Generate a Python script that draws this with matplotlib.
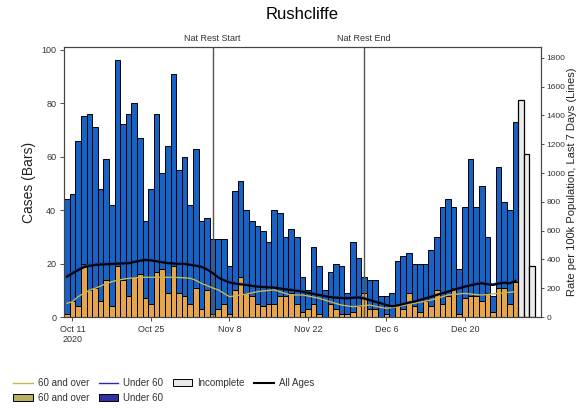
import numpy as np
import pandas as pd
import matplotlib
matplotlib.use("Agg")
import matplotlib.pyplot as plt
from matplotlib.patches import Patch
from matplotlib.lines import Line2D

plt.rcParams["font.family"] = ["Liberation Sans", "DejaVu Sans"]

# daily cases, Rushcliffe, from 10 Oct 2020
start = "2020-10-10"
total_cases = [44, 46, 66, 75, 76, 71, 48, 59, 42, 96, 72, 76, 80, 67, 36, 48, 76,
               54, 64, 91, 55, 60, 42, 63, 36, 37, 29, 29, 29, 19, 47, 51, 40, 36,
               34, 32, 28, 40, 39, 30, 33, 30, 15, 10, 26, 19, 10, 17, 20, 19, 9,
               28, 22, 15, 14, 14, 8, 8, 9, 21, 23, 24, 20, 20, 20, 25, 30, 41,
               44, 41, 18, 41, 59, 41, 49, 30, 8, 56, 43, 40, 73]
over60_cases = [1, 6, 4, 20, 10, 11, 6, 14, 4, 19, 14, 8, 15, 16, 7, 5, 17, 18, 9,
                19, 9, 8, 5, 11, 3, 10, 1, 3, 5, 1, 10, 15, 9, 8, 5, 4, 5, 5, 8,
                8, 9, 5, 2, 3, 5, 1, 0, 5, 3, 1, 1, 2, 4, 9, 3, 3, 0, 1, 0, 5, 3,
                9, 4, 2, 6, 4, 10, 5, 8, 11, 1, 7, 8, 8, 6, 9, 2, 11, 11, 5, 13]
incomplete_cases = [81, 61, 19]

# rate per 100k, last 7 days
all_ages_rate = [280, 303, 325, 345, 355, 361, 364, 366, 368, 370, 372, 373, 382,
                 390, 396, 393, 387, 380, 374, 371, 369, 368, 362, 356, 348, 330,
                 305, 275, 255, 240, 232, 226, 222, 216, 211, 208, 206, 204, 198,
                 192, 188, 182, 176, 168, 160, 153, 145, 138, 134, 131, 130, 133,
                 136, 128, 118, 106, 95, 83, 74, 80, 90, 99, 107, 118, 130, 141,
                 153, 165, 176, 188, 200, 211, 220, 228, 234, 228, 222, 232, 238,
                 234, 250]
over60_rate = [95, 107, 141, 165, 185, 199, 215, 232, 245, 255, 263, 269, 272, 275,
               276, 276, 276, 276, 276, 276, 274, 272, 269, 255, 234, 218, 202, 188,
               165, 141, 147, 153, 160, 168, 176, 181, 185, 188, 176, 163, 153, 153,
               153, 146, 138, 130, 118, 106, 94, 83, 77, 72, 75, 79, 83, 75, 67, 60,
               66, 72, 80, 88, 95, 103, 110, 118, 130, 141, 153, 157, 161, 164, 160,
               156, 153, 157, 161, 164, 168, 172, 176]
under60_rate = [290, 314, 336, 356, 365, 370, 372, 373, 375, 377, 379, 380, 389,
                397, 404, 401, 394, 386, 380, 377, 375, 374, 368, 363, 356, 338,
                312, 281, 262, 248, 239, 233, 229, 222, 216, 213, 211, 209, 204,
                198, 194, 187, 181, 173, 165, 158, 151, 144, 141, 139, 138, 141,
                143, 135, 124, 112, 101, 88, 79, 85, 95, 104, 112, 123, 135, 147,
                158, 170, 181, 194, 206, 218, 228, 236, 243, 236, 229, 240, 246,
                242, 258]

tick_dates = ["2020-10-11", "2020-10-25", "2020-11-08", "2020-11-22", "2020-12-06", "2020-12-20"]
tick_labels = ["Oct 11\n2020", "Oct 25", "Nov 8", "Nov 22", "Dec 6", "Dec 20"]
events = {"Nat Rest Start": "2020-11-05", "Nat Rest End": "2020-12-02"}

dates = pd.date_range(start, periods=len(total_cases), freq="D")
inc_dates = pd.date_range(dates[-1] + pd.Timedelta(days=1), periods=len(incomplete_cases), freq="D")
total = np.array(total_cases)
over60 = np.array(over60_cases)
under60 = total - over60

fig = plt.figure(figsize=(5.8, 4.08), dpi=100)
ax = fig.add_axes([0.110, 0.223, 0.823, 0.662])
ax2 = ax.twinx()

ax.bar(dates, over60, width=1, color="#e5a54e", edgecolor="black", linewidth=0.7, zorder=2)
ax.bar(dates, under60, bottom=over60, width=1, color="#1762c4", edgecolor="black", linewidth=0.7, zorder=2)
ax.bar(inc_dates, incomplete_cases, width=1, color="#ececec", edgecolor="black", linewidth=0.9, zorder=2)

for name, d in events.items():
    d = pd.Timestamp(d)
    ax.axvline(d, color="#555555", linewidth=1, zorder=3)
    ax.text(d, 102.5, name, ha="center", va="bottom", fontsize=6.5, color="#333333")

ax2.plot(dates, over60_rate, color="#c9b458", linewidth=1)
ax2.plot(dates, under60_rate, color="#1c3ca8", linewidth=1)
ax2.plot(dates, all_ages_rate, color="black", linewidth=1.5)

ax.set_xlim(pd.Timestamp(start) - pd.Timedelta(days=0.55), pd.Timestamp(start) + pd.Timedelta(days=84.6))
ax.set_ylim(0, 101)
ax2.set_ylim(0, 1876)
ax.set_yticks(range(0, 101, 20))
ax2.set_yticks(range(0, 1801, 200))
ax.set_xticks(pd.to_datetime(tick_dates))
ax.set_xticklabels(tick_labels)
ax.tick_params(labelsize=6.5, colors="#333333", length=3, width=0.6, pad=2.5)
ax2.tick_params(labelsize=6, colors="#333333", length=2.5, width=0.6, pad=1.5)
for a in (ax, ax2):
    for s in a.spines.values():
        s.set_color("#444444")
        s.set_linewidth(0.8)

ax.set_ylabel("Cases (Bars)", fontsize=10, color="#222222")
ax2.set_ylabel("Rate per 100k Population, Last 7 Days (Lines)", fontsize=8, color="#222222")
ax2.yaxis.set_label_coords(1.0545, 0.5)
ax.set_title("Rushcliffe", fontsize=12, pad=20)

handles = [
    Line2D([], [], color="#c9b458", linewidth=1),
    Patch(facecolor="#b8b060", edgecolor="black", linewidth=0.7),
    Line2D([], [], color="#2a2ab0", linewidth=1),
    Patch(facecolor="#3030a8", edgecolor="black", linewidth=0.7),
    Patch(facecolor="#e8e8e8", edgecolor="black", linewidth=0.7),
    Line2D([], [], color="black", linewidth=1.5),
]
labels = ["60 and over", "60 and over", "Under 60", "Under 60", "Incomplete", "All Ages"]
fig.legend(handles, labels, loc="upper left", bbox_to_anchor=(0.008, 0.095), ncol=4,
           frameon=False, fontsize=7, handlelength=2, columnspacing=1.0,
           handletextpad=0.5, labelspacing=0.5, labelcolor="#333333")

fig.savefig("out.png", dpi=100)
